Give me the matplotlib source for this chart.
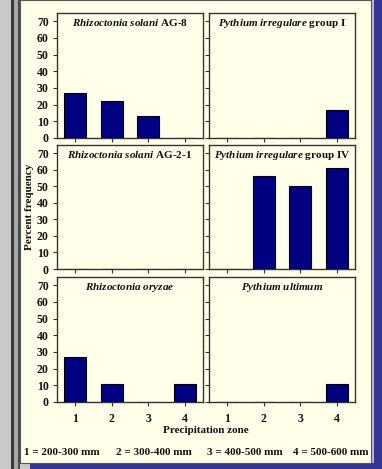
import matplotlib
matplotlib.use("Agg")
import matplotlib.pyplot as plt
from matplotlib.patches import Rectangle

# ---- data ----
zones = [1, 2, 3, 4]
zone_labels = ["1", "2", "3", "4"]
titles = [
    r"$\mathit{Rhizoctonia\ solani}$ AG-8",
    r"$\mathit{Pythium\ irregulare}$ group I",
    r"$\mathit{Rhizoctonia\ solani}$ AG-2-1",
    r"$\mathit{Pythium\ irregulare}$ group IV",
    r"$\mathit{Rhizoctonia\ oryzae}$",
    r"$\mathit{Pythium\ ultimum}$",
]
rs_ag8 = [27, 22, 13, 0]
pi_g1 = [0, 0, 0, 17]
rs_ag21 = [0, 0, 0, 0]
pi_g4 = [0, 56, 50, 61]
r_oryzae = [27, 11, 0, 11]
p_ultimum = [0, 0, 0, 11]
series = [rs_ag8, pi_g1, rs_ag21, pi_g4, r_oryzae, p_ultimum]
yticks = [0, 10, 20, 30, 40, 50, 60, 70]
legend_items = ["1 = 200-300 mm", "2 = 300-400 mm", "3 = 400-500 mm", "4 = 500-600 mm"]

plt.rcParams['font.family'] = ['Liberation Serif', 'DejaVu Serif']
plt.rcParams['font.weight'] = 'bold'
plt.rcParams['mathtext.fontset'] = 'custom'
plt.rcParams['mathtext.it'] = 'Liberation Serif:italic:bold'
plt.rcParams['mathtext.rm'] = 'Liberation Serif:bold'
plt.rcParams['mathtext.bf'] = 'Liberation Serif:bold'

W, H = 382, 469
fig = plt.figure(figsize=(W / 100, H / 100), dpi=100)
fig.patch.set_facecolor('#c9c9c9')

IVORY = '#ffffea'
BLUE = '#363696'

def rect(x0, y0, x1, y1, color, z=0):
    # pixel coords, y from top
    fig.patches.append(Rectangle((x0 / W, 1 - y1 / H), (x1 - x0) / W, (y1 - y0) / H,
                                 transform=fig.transFigure, facecolor=color,
                                 edgecolor='none', zorder=z))

rect(11, 0, 14, H, '#3a3a3a')
rect(14, 0, 18, H, '#a8a8a8')
rect(18, 0, 20, H, '#4a4a4a')
rect(30, 463, W, H, BLUE)
rect(371, 0, 374, 463, '#b8b8c8')
rect(374, 0, W, 463, BLUE)
rect(20, 0, 371, 463, IVORY, z=1)
# thin frame on ivory panel
fig.patches.append(Rectangle((20 / W, 1 - 463 / H), 351 / W, 463 / H,
                             transform=fig.transFigure, facecolor='none',
                             edgecolor='#555555', linewidth=0.8, zorder=2))

cols = [(57, 203), (209, 355)]
rows = [(13, 138), (145, 269), (277, 402)]

for i, vals in enumerate(series):
    r, c = divmod(i, 2)
    x0, x1 = cols[c]
    y0, y1 = rows[r]
    ax = fig.add_axes([x0 / W, 1 - y1 / H, (x1 - x0) / W, (y1 - y0) / H])
    ax.set_zorder(10)
    ax.set_facecolor(IVORY)
    ax.bar(zones, vals, width=0.6, color='#000080', edgecolor='black', linewidth=0.8, zorder=3)
    ax.set_xlim(0.5, 4.5)
    ax.set_ylim(0, 75)
    ax.set_yticks(yticks)
    ax.set_xticks(zones)
    for s in ax.spines.values():
        s.set_color('#333333')
        s.set_linewidth(1.0)
    ax.tick_params(direction='out', length=3, width=0.8, colors='#333333',
                   labelcolor='#111111', labelsize=8.5, pad=3)
    if c == 0:
        ax.set_yticklabels([str(t) for t in yticks], fontweight='bold')
    else:
        ax.set_yticklabels([])
    if r == 2:
        ax.set_xticklabels(zone_labels, fontweight='bold')
        ax.tick_params(axis='x', pad=5)
    else:
        ax.set_xticklabels([])
    ax.text(0.5, 0.965, titles[i], transform=ax.transAxes, ha='center', va='top',
            fontsize=8, fontweight='bold', color='#111111', zorder=4)

fig.text(29 / W, 1 - 207 / H, "Percent frequency", rotation=90, ha='center', va='center',
         fontsize=8, fontweight='bold', color='#111111', zorder=5)
fig.text(205.5 / W, 1 - 430 / H, "Precipitation zone", ha='center', va='center',
         fontsize=8, fontweight='bold', color='#111111', zorder=5)
for xc, txt in zip([61.5, 153.5, 244.5, 331], legend_items):
    fig.text(xc / W, 1 - 452 / H, txt, ha='center', va='center',
             fontsize=8, fontweight='bold', color='#111111', zorder=5)

fig.savefig('out.png', dpi=100, facecolor=fig.get_facecolor())
